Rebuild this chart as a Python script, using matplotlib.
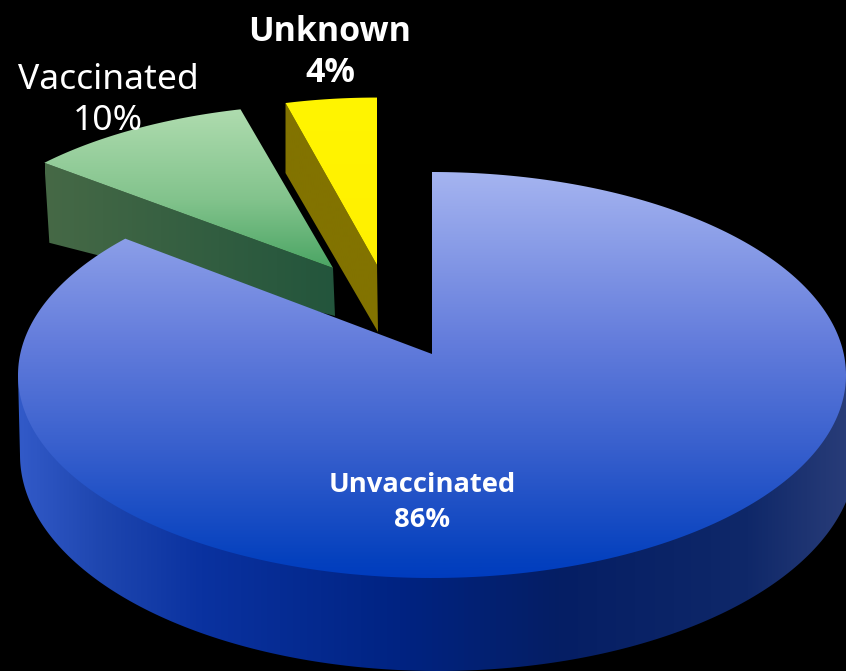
#!/usr/bin/env python
import numpy as np
import matplotlib
matplotlib.use('Agg')
import matplotlib.pyplot as plt
from matplotlib.colors import LinearSegmentedColormap
from matplotlib.patches import Polygon

W, H = 846, 671

labels = ['Unvaccinated', 'Vaccinated', 'Unknown']
values = [86, 10, 4]

### look of each slice: apex in pixels, size relative to the blue one, depth at apex/rim
apex = [(432, 354), (333, 268), (377, 265)]
scale_x = [1.0, 0.95, 0.92]
scale_y = [1.0, 0.90, 0.92]
aspect = [2.2, 2.27, 2.2]
depth = [(0, 0), (48, 80), (67, 70)]
side_shift = [(0, 0), (2, 5), (1, 0)]

rim_a, rim_b, rim_dy = 414., 203., 21.

top_stops = [
    [(172, '#a5b4f0'), (340, '#647ddc'), (450, '#375fcd'), (560, '#0541be'), (578, '#003cbe')],
    [(108, '#afdcaf'), (200, '#82c38c'), (268, '#4ba564'), (320, '#4ba564')],
    [(97, '#fff500'), (265, '#fff000')],
]
side_stops = [
    [(18, '#325ac8'), (100, '#1e46af'), (200, '#0a32a0'), (400, '#002382'),
     (560, '#051e64'), (750, '#0f2869'), (846, '#283c78')],
    [(45, '#466946'), (335, '#23553c')],
    [(285, '#827300'), (378, '#827300')],
]


def rim_points(i, th):
    # ray from the apex to the (slightly off-centre) ellipse, gives the perspective look
    a, b, dy = rim_a * scale_x[i], rim_b * scale_y[i], rim_dy * scale_y[i]
    dx_ = aspect[i] * np.sin(th)
    dy_ = -np.cos(th)
    qa = (dx_ / a) ** 2 + (dy_ / b) ** 2
    qb = 2 * (-dy) * dy_ / b ** 2
    qc = (dy / b) ** 2 - 1
    t = (-qb + np.sqrt(qb ** 2 - 4 * qa * qc)) / (2 * qa)
    return np.column_stack([apex[i][0] + dx_ * t, apex[i][1] + dy_ * t])


def gradient_fill(ax, verts, stops, vertical, zorder):
    lo, hi = stops[0][0], stops[-1][0]
    cols = [((p - lo) / (hi - lo), c) for p, c in stops]
    cmap = LinearSegmentedColormap.from_list('g', cols)
    grad = np.linspace(0, 1, 512)
    grad = grad.reshape(-1, 1) if vertical else grad.reshape(1, -1)
    if vertical:
        ext = (0, W, hi, lo)
    else:
        ext = (lo, hi, H, 0)
    im = ax.imshow(grad, cmap=cmap, extent=ext, aspect='auto', zorder=zorder,
                   vmin=0, vmax=1, interpolation='bilinear')
    patch = Polygon(verts, closed=True, transform=ax.transData, facecolor='none', edgecolor='none')
    ax.add_patch(patch)
    im.set_clip_path(patch)


fig = plt.figure(figsize=(W / 100, H / 100), dpi=100, facecolor='black')
ax = fig.add_axes([0, 0, 1, 1])
ax.set_facecolor('black')

angles = np.concatenate([[0], np.cumsum(values)]) / float(sum(values)) * 2 * np.pi

# draw back to front: yellow, green, blue
for i, z in zip([2, 1, 0], [2, 4, 6]):
    th = np.linspace(angles[i], angles[i + 1], 300)
    rim = rim_points(i, th)
    ap = np.array(apex[i], dtype=float)
    if i == 0:
        # blue: side is the band between front of the top ellipse and a lower ellipse
        phi = np.linspace(np.pi * 1.5, np.pi * 0.5, 300)
        low = np.column_stack([438 + 418 * np.sin(phi), 455 - 216 * np.cos(phi)])
        band = np.vstack([[(432 - rim_a, 375)], low, [(432 + rim_a, 375)]])
        gradient_fill(ax, band, side_stops[i], False, z)
    else:
        near, far = depth[i]
        edge = rim[0]
        side = np.array([edge, ap, ap + [side_shift[i][0], near], edge + [side_shift[i][1], far]])
        gradient_fill(ax, side, side_stops[i], False, z)
    gradient_fill(ax, np.vstack([[ap], rim]), top_stops[i], True, z + 1)

text_pos = [(422, 485, 520), (108, 80, 121), (330, 32, 73)]
sizes = [19.7, 25.5, 24.5]
weights = ['bold', 'normal', 'bold']
fonts = ['Open Sans', 'Noto Sans', 'Open Sans']
for lab, val, (x, y1, y2), fs, wt, fn in zip(labels, values, text_pos, sizes, weights, fonts):
    ax.text(x, y1, lab, color='white', ha='center', va='center', fontsize=fs,
            fontweight=wt, family=fn, zorder=10)
    ax.text(x, y2, '%d%%' % val, color='white', ha='center', va='center', fontsize=fs,
            fontweight=wt, family=fn, zorder=10)

ax.set_xlim(0, W)
ax.set_ylim(H, 0)
ax.axis('off')

fig.savefig('out.png', dpi=100, facecolor='black')
